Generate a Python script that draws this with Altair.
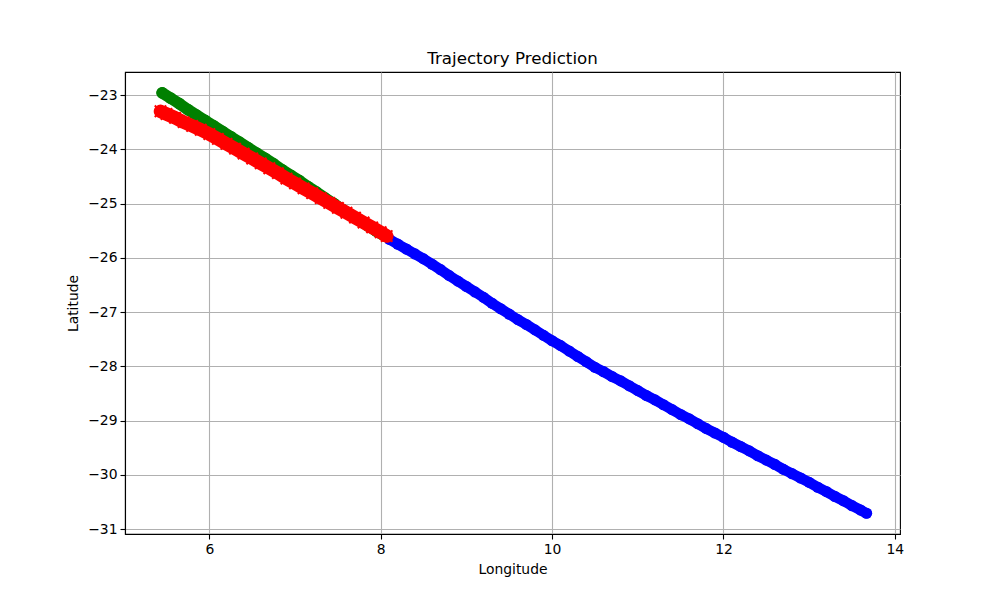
import altair as alt
import pandas as pd

# ---- data ----
blue_lon = [8.10, 8.20, 8.30, 8.40, 8.50, 8.60, 8.70, 8.80, 8.90, 9.00,
            9.10, 9.20, 9.30, 9.40, 9.50, 9.60, 9.70, 9.80, 9.90, 10.00,
            10.10, 10.20, 10.30, 10.40, 10.50, 10.60, 10.70, 10.80, 10.90, 11.00,
            11.10, 11.20, 11.30, 11.40, 11.50, 11.60, 11.70, 11.80, 11.90, 12.00,
            12.10, 12.20, 12.30, 12.40, 12.50, 12.60, 12.70, 12.80, 12.90, 13.00,
            13.10, 13.20, 13.30, 13.40, 13.50, 13.60, 13.67]
blue_lat = [-25.66, -25.75, -25.84, -25.93, -26.02, -26.12, -26.22, -26.33, -26.43, -26.53,
            -26.63, -26.73, -26.84, -26.94, -27.04, -27.14, -27.23, -27.33, -27.43, -27.53,
            -27.62, -27.72, -27.82, -27.92, -28.02, -28.10, -28.19, -28.27, -28.36, -28.45,
            -28.54, -28.62, -28.71, -28.80, -28.89, -28.97, -29.06, -29.15, -29.23, -29.31,
            -29.40, -29.48, -29.56, -29.65, -29.73, -29.81, -29.90, -29.98, -30.06, -30.14,
            -30.23, -30.31, -30.40, -30.48, -30.57, -30.65, -30.71]

green_lon = [5.45, 5.55, 5.65, 5.75, 5.85, 5.95, 6.05, 6.15, 6.25, 6.35,
             6.45, 6.55, 6.65, 6.75, 6.85, 6.95, 7.05, 7.15, 7.25, 7.35,
             7.45, 7.55, 7.65, 7.75, 7.85, 7.95, 8.05]
green_lat = [-22.96, -23.06, -23.16, -23.27, -23.37, -23.47, -23.57, -23.67, -23.77, -23.87,
             -23.97, -24.07, -24.17, -24.27, -24.38, -24.48, -24.58, -24.69, -24.79, -24.90,
             -25.00, -25.11, -25.21, -25.31, -25.41, -25.51, -25.60]

red_lon = [5.43, 5.50, 5.60, 5.70, 5.80, 5.90, 6.00, 6.10, 6.20, 6.30,
           6.40, 6.50, 6.60, 6.70, 6.80, 6.90, 7.00, 7.10, 7.20, 7.30,
           7.40, 7.50, 7.60, 7.70, 7.80, 7.90, 8.00, 8.07]
red_lat = [-23.30, -23.35, -23.42, -23.50, -23.57, -23.64, -23.72, -23.81, -23.90, -23.99,
           -24.08, -24.17, -24.26, -24.35, -24.44, -24.54, -24.63, -24.72, -24.81, -24.90,
           -24.99, -25.08, -25.17, -25.26, -25.35, -25.44, -25.53, -25.60]

x_ticks = [6, 8, 10, 12, 14]
y_ticks = [-31, -30, -29, -28, -27, -26, -25, -24, -23]

blue_df = pd.DataFrame({"lon": blue_lon, "lat": blue_lat})
green_df = pd.DataFrame({"lon": green_lon, "lat": green_lat})
red_df = pd.DataFrame({"lon": red_lon, "lat": red_lat})

FONT = "DejaVu Sans"
x_enc = alt.X("lon:Q", title="Longitude",
              scale=alt.Scale(domain=[5.016, 14.06], nice=False, zero=False),
              axis=alt.Axis(values=x_ticks, format="d"))
y_enc = alt.Y("lat:Q", title="Latitude",
              scale=alt.Scale(domain=[-31.092, -22.576], nice=False, zero=False),
              axis=alt.Axis(values=y_ticks, format="d"))


def band(df, color, width):
    return alt.Chart(df).mark_line(color=color, strokeWidth=width, strokeCap="round",
                                   strokeJoin="round").encode(x=x_enc, y=y_enc)

blue_line = band(blue_df, "#0000ff", 10.5)
blue_pts = alt.Chart(blue_df).mark_circle(color="#0000ff", size=125, opacity=1).encode(x=x_enc, y=y_enc)

green_line = band(green_df, "#008000", 11.5)
green_pts = alt.Chart(green_df).mark_circle(color="#008000", size=140, opacity=1).encode(x=x_enc, y=y_enc)

red_line = band(red_df, "#ff0000", 13.5)
red_pts = alt.Chart(red_df).mark_point(
    shape="M-1,-1L1,1M1,-1L-1,1", color="#ff0000", size=130, filled=False,
    strokeWidth=2, opacity=1).encode(x=x_enc, y=y_enc)

chart = alt.layer(blue_line, blue_pts, green_line, green_pts, red_line, red_pts).properties(
    width=775, height=462,
    title=alt.Title("Trajectory Prediction", fontSize=16.7, fontWeight="normal",
                    font=FONT, color="black", offset=4),
    padding={"left": 117, "top": 64, "right": 60, "bottom": 60},
    autosize=alt.AutoSizeParams(type="none"),
).configure_view(
    stroke="black", strokeWidth=1.1
).configure_axis(
    zindex=1,
    grid=True, gridColor="#b0b0b0", gridWidth=1.1,
    domainColor="black", domainWidth=1.1,
    tickColor="black", tickSize=5, tickWidth=1.1,
    labelFont=FONT, labelFontSize=13.9, labelColor="black", labelPadding=3,
    titleFont=FONT, titleFontSize=13.9, titleFontWeight="normal", titleColor="black",
    titlePadding=7,
)

chart.save("out.html", embed_options={"renderer": "svg", "actions": False})
